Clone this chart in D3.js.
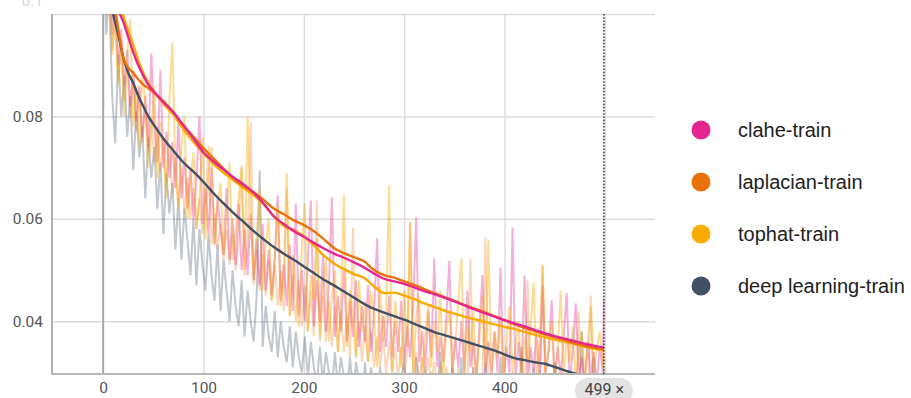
<!DOCTYPE html>
<html><head><meta charset="utf-8">
<script src="https://cdn.jsdelivr.net/npm/d3@7"></script>
<style>
html,body{margin:0;padding:0;background:#fff;}
svg{display:block;}
</style></head>
<body>
<svg id="chart" width="911" height="398"></svg>
<script>
// ---------- data ----------
const seriesNames = ["clahe-train", "laplacian-train", "tophat-train", "deep learning-train"];
const seriesColors = ["#e52592", "#e8710a", "#f9ab00", "#425066"];
const xTicks = [0, 100, 200, 300, 400];
const yTicks = [0.04, 0.06, 0.08];
const yTopLabel = "0.1";
const currentStep = 499;

// smoothed values
const smoothSteps = [0,5,10,15,20,25,30,35,40,45,50,60,70,80,90,100,110,120,130,140,150,160,170,180,190,200,210,220,230,240,250,260,270,280,290,300,310,320,330,340,350,360,370,380,390,400,410,420,430,440,450,460,470,480,490,499];
const claheSmooth = [0.125,0.112,0.106,0.1010,0.0985,0.0955,0.0925,0.0900,0.0880,0.0862,0.0850,0.0828,0.0808,0.0782,0.0757,0.0730,0.0712,0.0696,0.0681,0.0667,0.0651,0.0630,0.0605,0.0590,0.0576,0.0565,0.0553,0.0542,0.0532,0.0524,0.0515,0.0505,0.0493,0.0483,0.0478,0.0473,0.0466,0.0459,0.0453,0.0446,0.0439,0.0431,0.0423,0.0416,0.0409,0.0402,0.0396,0.0390,0.0383,0.0377,0.0371,0.0366,0.0361,0.0356,0.0352,0.0349];
const laplacianSmooth = [0.120,0.109,0.1030,0.0972,0.0915,0.0895,0.0885,0.0872,0.0862,0.0855,0.0847,0.0830,0.0808,0.0783,0.0760,0.0738,0.0718,0.0698,0.0679,0.0664,0.0652,0.0637,0.0620,0.0609,0.0597,0.0588,0.0576,0.0560,0.0543,0.0533,0.0525,0.0517,0.0500,0.0490,0.0485,0.0478,0.0471,0.0463,0.0455,0.0447,0.0440,0.0432,0.0425,0.0418,0.0410,0.0402,0.0394,0.0387,0.0381,0.0375,0.0369,0.0363,0.0357,0.0352,0.0348,0.0345];
const tophatSmooth = [0.128,0.118,0.110,0.1045,0.0997,0.0968,0.0940,0.0910,0.0885,0.0866,0.0850,0.0825,0.0803,0.0775,0.0750,0.0728,0.0707,0.0690,0.0675,0.0660,0.0646,0.0628,0.0605,0.0586,0.0578,0.0566,0.0548,0.0528,0.0513,0.0502,0.0492,0.0485,0.0468,0.0455,0.0456,0.0450,0.0443,0.0435,0.0428,0.0421,0.0415,0.0409,0.0404,0.0399,0.0394,0.0389,0.0385,0.0379,0.0374,0.0369,0.0364,0.0360,0.0355,0.0350,0.0346,0.0343];
const deepSmooth = [0.118,0.106,0.1000,0.0960,0.0915,0.0885,0.0865,0.0840,0.0820,0.0800,0.0785,0.0757,0.0733,0.0710,0.0692,0.0672,0.0650,0.0630,0.0611,0.0594,0.0576,0.0560,0.0545,0.0532,0.0520,0.0507,0.0494,0.0481,0.0470,0.0458,0.0446,0.0434,0.0424,0.0417,0.0410,0.0403,0.0395,0.0387,0.0379,0.0373,0.0367,0.0361,0.0355,0.0349,0.0343,0.0335,0.0328,0.0324,0.0320,0.0317,0.0311,0.0304,0.0298,0.0293,0.0288,0.0284];

// raw (unsmoothed) values, every 3 steps
const rawSteps = [0,3,6,9,12,15,18,21,24,27,30,33,36,39,42,45,48,51,54,57,60,63,66,69,72,75,78,81,84,87,90,93,96,99,102,105,108,111,114,117,120,123,126,129,132,135,138,141,144,147,150,153,156,159,162,165,168,171,174,177,180,183,186,189,192,195,198,201,204,207,210,213,216,219,222,225,228,231,234,237,240,243,246,249,252,255,258,261,264,267,270,273,276,279,282,285,288,291,294,297,300,303,306,309,312,315,318,321,324,327,330,333,336,339,342,345,348,351,354,357,360,363,366,369,372,375,378,381,384,387,390,393,396,399,402,405,408,411,414,417,420,423,426,429,432,435,438,441,444,447,450,453,456,459,462,465,468,471,474,477,480,483,486,489,492,495,498,499];
const tophatRaw = [
0.128,0.104,0.117,0.092,0.100,0.086,0.095,0.080,0.092,0.099,
0.078,0.086,0.074,0.089,0.082,0.070,0.077,0.086,0.068,0.079,
0.072,0.064,0.083,0.0945,0.069,0.062,0.074,0.080,0.060,0.067,
0.073,0.058,0.064,0.076,0.056,0.069,0.074,0.055,0.063,0.067,
0.053,0.060,0.071,0.052,0.058,0.064,0.070,0.050,0.080,0.062,
0.048,0.057,0.066,0.046,0.055,0.060,0.044,0.052,0.063,0.043,
0.050,0.0689,0.041,0.053,0.047,0.039,0.055,0.063,0.038,0.049,
0.044,0.056,0.037,0.047,0.052,0.036,0.045,0.050,0.034,0.043,
0.0646,0.035,0.046,0.040,0.033,0.048,0.038,0.044,0.032,0.046,
0.041,0.031,0.047,0.036,0.042,0.0665,0.030,0.044,0.038,0.031,
0.046,0.035,0.0593,0.030,0.041,0.045,0.029,0.037,0.043,0.031,
0.040,0.034,0.046,0.029,0.038,0.042,0.030,0.036,0.044,0.0523,
0.029,0.039,0.034,0.042,0.028,0.037,0.045,0.031,0.0558,0.030,
0.038,0.033,0.041,0.028,0.036,0.043,0.030,0.035,0.040,0.028,
0.037,0.032,0.039,0.0475,0.029,0.036,0.0509,0.030,0.035,0.040,
0.028,0.034,0.046,0.029,0.037,0.032,0.039,0.028,0.034,0.038,
0.029,0.036,0.043,0.030,0.035,0.038,0.031,0.0335];
const claheRaw = [
0.125,0.104,0.112,0.096,0.104,0.090,0.097,0.086,0.093,0.082,
0.089,0.079,0.086,0.076,0.084,0.074,0.0923,0.078,0.071,0.089,
0.070,0.077,0.068,0.075,0.066,0.079,0.064,0.072,0.062,0.070,
0.060,0.068,0.080,0.059,0.066,0.057,0.070,0.055,0.064,0.058,
0.053,0.066,0.052,0.060,0.051,0.063,0.050,0.058,0.049,0.061,
0.048,0.056,0.047,0.059,0.046,0.054,0.045,0.052,0.0646,0.044,
0.051,0.043,0.055,0.042,0.063,0.041,0.050,0.040,0.052,0.0636,
0.039,0.048,0.040,0.053,0.038,0.047,0.0642,0.037,0.045,0.038,
0.050,0.036,0.044,0.037,0.048,0.035,0.043,0.036,0.047,0.034,
0.042,0.0562,0.034,0.041,0.035,0.045,0.033,0.040,0.034,0.044,
0.032,0.039,0.033,0.043,0.0603,0.032,0.038,0.031,0.042,0.033,
0.0523,0.031,0.037,0.032,0.041,0.0518,0.030,0.037,0.031,0.040,
0.030,0.046,0.031,0.036,0.029,0.039,0.049,0.030,0.036,0.029,
0.038,0.030,0.0505,0.029,0.035,0.030,0.0583,0.029,0.036,0.030,
0.049,0.029,0.035,0.030,0.038,0.028,0.047,0.030,0.034,0.0441,
0.028,0.035,0.029,0.037,0.0455,0.028,0.034,0.0435,0.029,0.033,
0.028,0.036,0.029,0.034,0.028,0.035,0.030,0.044];
const laplacianRaw = [
0.120,0.102,0.108,0.093,0.099,0.087,0.094,0.083,0.090,0.080,
0.087,0.077,0.085,0.075,0.082,0.073,0.080,0.071,0.078,0.069,
0.076,0.067,0.074,0.065,0.072,0.063,0.070,0.061,0.068,0.060,
0.066,0.058,0.064,0.057,0.062,0.0743,0.055,0.061,0.054,0.059,
0.052,0.058,0.051,0.057,0.050,0.056,0.0704,0.049,0.055,0.0788,
0.047,0.054,0.046,0.053,0.045,0.052,0.044,0.051,0.043,0.050,
0.042,0.066,0.041,0.049,0.040,0.048,0.039,0.047,0.038,0.046,
0.037,0.0636,0.036,0.045,0.036,0.044,0.035,0.043,0.034,0.042,
0.034,0.041,0.033,0.0583,0.033,0.040,0.032,0.039,0.032,0.038,
0.031,0.037,0.031,0.037,0.030,0.036,0.030,0.035,0.029,0.035,
0.029,0.034,0.0595,0.029,0.034,0.028,0.033,0.028,0.033,0.028,
0.032,0.027,0.032,0.027,0.031,0.027,0.031,0.026,0.031,0.026,
0.030,0.026,0.0523,0.026,0.030,0.025,0.029,0.0564,0.025,0.029,
0.025,0.029,0.025,0.028,0.024,0.028,0.024,0.028,0.024,0.027,
0.024,0.048,0.024,0.027,0.023,0.027,0.051,0.023,0.027,0.023,
0.026,0.023,0.026,0.023,0.026,0.022,0.026,0.022,0.042,0.022,
0.025,0.022,0.045,0.022,0.025,0.022,0.025,0.031];
const deepRaw = [
0.118,0.096,0.104,0.084,0.0747,0.092,0.080,0.088,0.076,0.084,
0.0695,0.081,0.072,0.078,0.064,0.076,0.068,0.074,0.062,0.071,
0.057,0.069,0.061,0.067,0.054,0.064,0.052,0.062,0.056,0.049,
0.060,0.047,0.058,0.051,0.046,0.057,0.049,0.044,0.055,0.042,
0.052,0.046,0.040,0.050,0.043,0.039,0.048,0.037,0.046,0.040,
0.036,0.045,0.0695,0.035,0.043,0.037,0.034,0.042,0.033,0.040,
0.035,0.032,0.039,0.031,0.038,0.033,0.030,0.037,0.029,0.036,
0.031,0.028,0.035,0.028,0.034,0.030,0.027,0.034,0.027,0.033,
0.029,0.026,0.033,0.026,0.032,0.028,0.025,0.032,0.025,0.031,
0.027,0.024,0.031,0.024,0.030,0.026,0.023,0.030,0.023,0.029,
0.032,0.025,0.029,0.022,0.033,0.027,0.023,0.031,0.021,0.030,
0.026,0.022,0.034,0.024,0.029,0.021,0.031,0.025,0.022,0.033,
0.020,0.028,0.024,0.031,0.021,0.027,0.023,0.032,0.020,0.029,
0.025,0.021,0.033,0.022,0.027,0.020,0.030,0.024,0.021,0.035,
0.022,0.028,0.020,0.031,0.023,0.019,0.029,0.022,0.026,0.020,
0.032,0.021,0.027,0.019,0.030,0.023,0.020,0.028,0.021,0.038,
0.020,0.026,0.022,0.033,0.019,0.027,0.021,0.025];

// ---------- layout ----------
const svg = d3.select("#chart");
const L = 52, R = 655, T = 14, B = 374;
const x = d3.scaleLinear().domain([-51, 550]).range([L, R]);
const y = d3.scaleLinear().domain([0.0297, 0.1]).range([B, T]);

svg.append("defs").append("clipPath").attr("id","plotClip")
  .append("rect").attr("x", L).attr("y", T).attr("width", R - L).attr("height", B - T);

// grid via axes
svg.append("g").attr("transform", `translate(0,${B})`)
  .call(d3.axisBottom(x).tickValues([100,200,300,400,500]).tickSize(-(B - T)).tickFormat(""))
  .call(g => g.select(".domain").remove())
  .call(g => g.selectAll("line").attr("stroke", "#dcdcdc").attr("stroke-width", 1.5));
svg.append("g").attr("transform", `translate(${L},0)`)
  .call(d3.axisLeft(y).tickValues([0.04,0.06,0.08,0.1]).tickSize(-(R - L)).tickFormat(""))
  .call(g => g.select(".domain").remove())
  .call(g => g.selectAll("line").attr("stroke", "#dcdcdc").attr("stroke-width", 1.5));

// zero line
svg.append("line").attr("x1", x(0)).attr("x2", x(0)).attr("y1", T).attr("y2", B)
  .attr("stroke", "#a8a8a8").attr("stroke-width", 2);

// plot lines
const plot = svg.append("g").attr("clip-path", "url(#plotClip)");
const rawSets = [deepRaw, laplacianRaw, claheRaw, tophatRaw];
const rawColorIdx = [3, 1, 0, 2];
const rawOpacity = [0.32, 0.28, 0.36, 0.42];
const lineRaw = d3.line().x((d, i) => x(rawSteps[i])).y(d => y(d));
rawSets.forEach((arr, k) => {
  plot.append("path").datum(arr).attr("d", lineRaw)
    .attr("fill", "none").attr("stroke", seriesColors[rawColorIdx[k]])
    .attr("stroke-opacity", rawOpacity[k]).attr("stroke-width", 2)
    .attr("stroke-linejoin", "miter");
});
const lineSmooth = d3.line().x((d, i) => x(smoothSteps[i])).y(d => y(d)).curve(d3.curveMonotoneX);
const smoothSets = [deepSmooth, tophatSmooth, laplacianSmooth, claheSmooth];
const smoothColorIdx = [3, 2, 1, 0];
smoothSets.forEach((arr, k) => {
  plot.append("path").datum(arr).attr("d", lineSmooth)
    .attr("fill", "none").attr("stroke", seriesColors[smoothColorIdx[k]])
    .attr("stroke-width", 2.4).attr("stroke-linejoin", "round");
});

// axis lines
svg.append("line").attr("x1", L).attr("x2", L).attr("y1", T).attr("y2", B + 1)
  .attr("stroke", "#b0b0b0").attr("stroke-width", 2);
svg.append("line").attr("x1", L - 1).attr("x2", R).attr("y1", B).attr("y2", B)
  .attr("stroke", "#b8b8b8").attr("stroke-width", 2);

// dotted current-step line
svg.append("line").attr("x1", x(currentStep)).attr("x2", x(currentStep)).attr("y1", T).attr("y2", B)
  .attr("stroke", "#444").attr("stroke-width", 1.6).attr("stroke-dasharray", "1.6,1.6");

// tick labels
const font = "Roboto, 'Liberation Sans', Arial, sans-serif";
svg.append("g").attr("transform", `translate(0,${B})`)
  .call(d3.axisBottom(x).tickValues(xTicks).tickSize(0).tickPadding(8).tickFormat(d3.format("d")))
  .call(g => g.select(".domain").remove())
  .call(g => g.selectAll("text").attr("font-family", font).attr("font-size", 15.5).attr("fill", "#555"));
svg.append("g").attr("transform", `translate(${L},0)`)
  .call(d3.axisLeft(y).tickValues(yTicks).tickSize(0).tickPadding(9).tickFormat(d3.format(".2f")))
  .call(g => g.select(".domain").remove())
  .call(g => g.selectAll("text").attr("font-family", font).attr("font-size", 15.5).attr("fill", "#555"));
svg.append("text").attr("x", 43).attr("y", 6).attr("text-anchor", "end")
  .attr("font-family", font).attr("font-size", 15.5).attr("fill", "#d6d6d6").text(yTopLabel);

// step badge
const badge = svg.append("g");
badge.append("rect").attr("x", x(currentStep) - 29).attr("y", 378).attr("width", 58).attr("height", 26)
  .attr("rx", 13).attr("fill", "#e3e3e3");
badge.append("text").attr("x", x(currentStep) + 0.5).attr("y", 395).attr("text-anchor", "middle")
  .attr("font-family", font).attr("font-size", 16).attr("fill", "#444").text(currentStep + " \u00d7");

// legend
const legendY = d3.scalePoint().domain(seriesNames).range([130, 286]);
const leg = svg.append("g");
seriesNames.forEach((n, i) => {
  leg.append("circle").attr("cx", 701).attr("cy", legendY(n)).attr("r", 9.5).attr("fill", seriesColors[i]);
  leg.append("text").attr("x", 738).attr("y", legendY(n)).attr("dy", "0.35em")
    .attr("font-family", "'Liberation Sans', Arial, sans-serif").attr("font-size", 20)
    .attr("fill", "#212121").text(n);
});
</script>
</body></html>
